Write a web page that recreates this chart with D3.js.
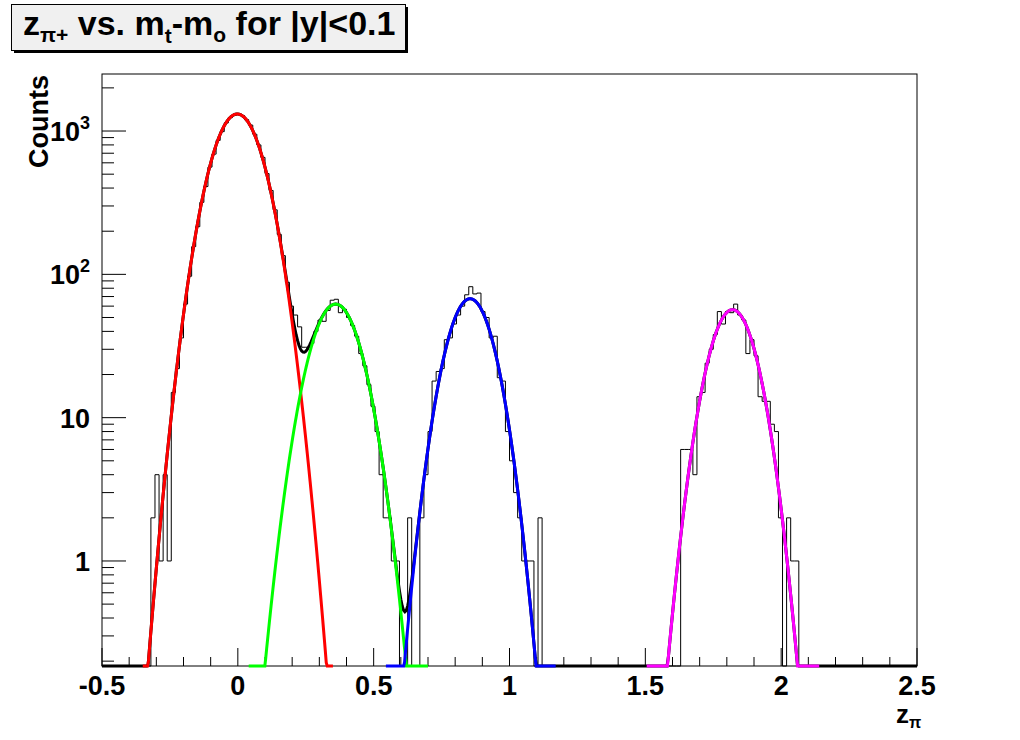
<!DOCTYPE html>
<html><head><meta charset="utf-8">
<script src="https://cdn.jsdelivr.net/npm/d3@7"></script>
<style>
body{margin:0;background:#fff}
text{font-family:"Liberation Sans",Arial,Helvetica,sans-serif;font-weight:bold;fill:#000}
</style>
</head><body>
<svg id="c" width="1020" height="740"></svg>
<script>
// ---------- data ----------
const xRange = [-0.5, 2.5];
const yRange = [0.185, 2500];
const binLow = -0.5;
const binWidth = 0.015;
// histogram counts, 200 bins from -0.5 to 2.5
const counts = [
  0,0,0,0,0,0,0,0,0,0, 0,0,2,4,1,4,1,15,22,36,
  62,97,156,215,318,410,560,690,860,990, 1140,1240,1290,1320,1280,1200,1100,950,800,655,
  505,385,282,190,135,88,60,52,43,31, 31,33,40,48,47,56,66,67,54,57,
  50,44,37,28,23,17,12,8,4,2, 2,1,1,0,0,2,0,0,2,4,
  8,18,21,22,35,36,45,52,60,72, 82,73,74,55,50,36,37,19,18,8,
  5,3,2,1,1,1,0,2,0,0, 0,0,0,0,0,0,0,0,0,0,
  0,0,0,0,0,0,0,0,0,0, 0,0,0,0,0,0,0,0,0,0,
  0,0,6,6,6,4,14,15,24,30, 38,55,45,55,54,62,52,48,28,35,
  27,14,13,13,9,8,2,0,2,1, 1,0,0,0,0,0,0,0,0,0,
  0,0,0,0,0,0,0,0,0,0, 0,0,0,0,0,0,0,0,0,0
];
// Gaussian fit components (amplitude, mean, sigma, drawing range)
const fitColors = ["#ff0000", "#00ff00", "#0000ff", "#ff00ff"];
const fitAmp   = [1315, 62, 67.6, 56.7];
const fitMean  = [-0.002, 0.36, 0.855, 1.821];
const fitSigma = [0.078, 0.0763, 0.0706, 0.0707];
const fitLo    = [-0.35, 0.04, 0.545, 1.505];
const fitHi    = [0.35, 0.70, 1.17, 2.14];
const totalRange = [-0.5, 2.5];
const xTickValues = [-0.5, 0, 0.5, 1, 1.5, 2, 2.5];
const yTickValues = [1, 10, 100, 1000];
const yTickLabels = [["1",""], ["10",""], ["10","2"], ["10","3"]];

// ---------- layout ----------
const svg = d3.select("#c");
const L = 102, R = 917, T = 74, B = 666;
const x = d3.scaleLinear().domain(xRange).range([L, R]);
const y = d3.scaleLog().domain(yRange).range([B, T]);
const yc = v => y(Math.max(v, yRange[0]));

svg.append("defs").append("clipPath").attr("id","clip")
  .append("rect").attr("x", L).attr("y", T).attr("width", R-L).attr("height", B-T+2);

// frame
svg.append("rect").attr("x", L).attr("y", T).attr("width", R-L).attr("height", B-T)
  .attr("fill", "#fff").attr("stroke", "#000").attr("stroke-width", 1);

// x axis ticks (inward)
const xMinor = d3.range(-5, 26).map(i => i/10);
svg.append("g").selectAll("line").data(xMinor).enter().append("line")
  .attr("x1", d => x(d)).attr("x2", d => x(d))
  .attr("y1", B).attr("y2", d => Math.abs(d*2 - Math.round(d*2)) < 1e-9 ? B-18 : B-9)
  .attr("stroke", "#000");
// y axis ticks (inward)
const yMinor = [];
for (let e = -1; e <= 3; e++) for (let m = 1; m <= 9; m++) {
  const v = m * Math.pow(10, e);
  if (v >= yRange[0] && v <= yRange[1]) yMinor.push({v, major: m === 1});
}
svg.append("g").selectAll("line").data(yMinor).enter().append("line")
  .attr("x1", L).attr("x2", d => d.major ? L+24 : L+12)
  .attr("y1", d => y(d.v)).attr("y2", d => y(d.v))
  .attr("stroke", "#000");

// x tick labels
svg.append("g").selectAll("text").data(xTickValues).enter().append("text")
  .attr("x", d => x(d)).attr("y", 695).attr("text-anchor", "middle")
  .style("font-size", "27px").text(d => d);
// y tick labels
const yl = svg.append("g").selectAll("text").data(yTickValues).enter().append("text")
  .attr("x", 90).attr("y", d => y(d) + 10).attr("text-anchor", "end")
  .style("font-size", "27px");
yl.each(function(d, i) {
  const t = d3.select(this);
  t.append("tspan").text(yTickLabels[i][0]);
  if (yTickLabels[i][1]) t.append("tspan").attr("dy", -12).style("font-size", "18px").text(yTickLabels[i][1]);
});

// histogram
const hp = d3.path();
counts.forEach((c, i) => {
  const x0 = x(binLow + i*binWidth), x1 = x(binLow + (i+1)*binWidth);
  if (i === 0) hp.moveTo(x0, yc(c)); else hp.lineTo(x0, yc(c));
  hp.lineTo(x1, yc(c));
});
const g = svg.append("g").attr("clip-path", "url(#clip)");
g.append("path").attr("d", hp.toString()).attr("fill", "none").attr("stroke", "#000").attr("stroke-width", 1);

// fits
const gauss = (i, z) => fitAmp[i] * Math.exp(-0.5 * Math.pow((z - fitMean[i]) / fitSigma[i], 2));
const line = d3.line().x(d => x(d[0])).y(d => yc(d[1]));
const nS = 600;
const totalPts = d3.range(nS + 1).map(j => {
  const z = totalRange[0] + (totalRange[1] - totalRange[0]) * j / nS;
  return [z, d3.sum(fitAmp.map((a, i) => gauss(i, z)))];
});
g.append("path").attr("d", line(totalPts)).attr("fill", "none").attr("stroke", "#000").attr("stroke-width", 3);
fitColors.forEach((col, i) => {
  const pts = d3.range(201).map(j => {
    const z = fitLo[i] + (fitHi[i] - fitLo[i]) * j / 200;
    return [z, gauss(i, z)];
  });
  g.append("path").attr("d", line(pts)).attr("fill", "none").attr("stroke", col).attr("stroke-width", 3);
});

// axis titles
svg.append("text").attr("transform", "translate(48,75) rotate(-90)").attr("text-anchor", "end")
  .style("font-size", "27px").text("Counts");
const xt = svg.append("text").attr("x", 896).attr("y", 723).attr("text-anchor", "start").style("font-size", "26px");
xt.append("tspan").text("z");
xt.append("tspan").attr("dy", 5).style("font-size", "16px").text("π");

// title box
svg.append("rect").attr("x", 14).attr("y", 7).attr("width", 394).attr("height", 46).attr("fill", "#000");
svg.append("rect").attr("x", 11.5).attr("y", 4.5).attr("width", 394).attr("height", 46)
  .attr("fill", "#f0f0f0").attr("stroke", "#000").attr("stroke-width", 1);
const tt = svg.append("text").attr("x", 23).attr("y", 35).style("font-size", "34px");
tt.append("tspan").text("z");
tt.append("tspan").attr("dy", 7).style("font-size", "21px").text("π+");
tt.append("tspan").attr("dy", -7).text(" vs. m");
tt.append("tspan").attr("dy", 8).style("font-size", "21px").text("t");
tt.append("tspan").attr("dy", -8).text("-m");
tt.append("tspan").attr("dy", 7).style("font-size", "21px").text("o");
tt.append("tspan").attr("dy", -7).text(" for |y|<0.1");
</script>
</body></html>
